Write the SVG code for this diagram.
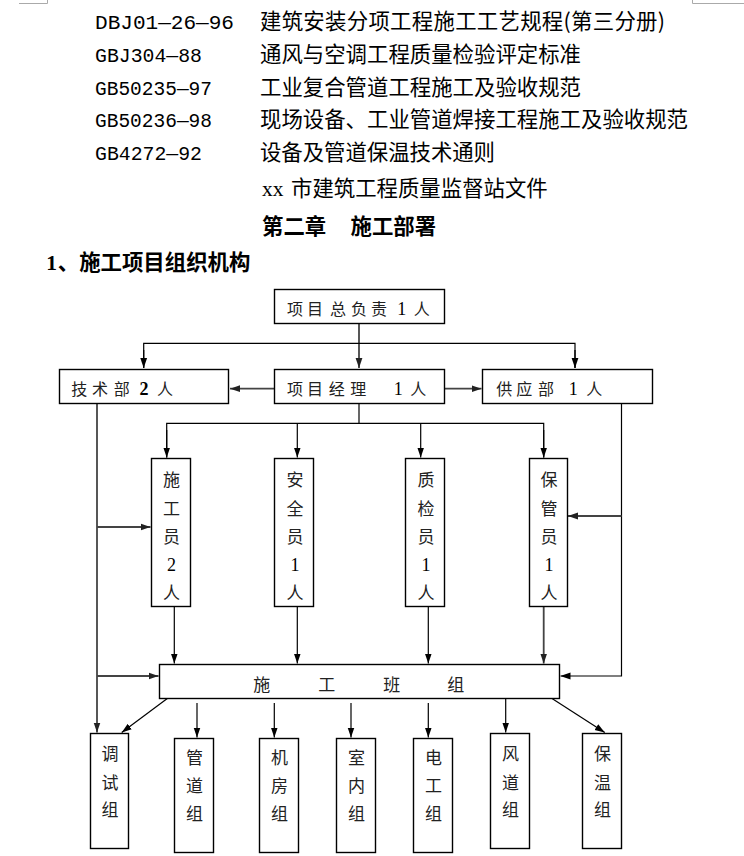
<svg xmlns="http://www.w3.org/2000/svg" width="744" height="856" viewBox="0 0 744 856">
<style>
.cjk{font-family:"Noto Sans CJK SC","Noto Sans CJK JP",sans-serif;fill:#000}
.code{font-family:"Liberation Mono",monospace;font-size:20px;fill:#000}
.ser{font-family:"Liberation Serif","Noto Sans CJK SC",serif}
.bold{font-weight:bold}
.h{font-size:21.4px}
.box{fill:#fff;stroke:#000;stroke-width:1.4}
.bt{font-family:"Noto Sans CJK SC",sans-serif;font-size:16px;fill:#222;text-anchor:middle}
.vt{font-family:"Noto Sans CJK SC",sans-serif;font-size:17px;fill:#222;text-anchor:middle}
.num{font-family:"Liberation Serif",serif;fill:#000}
.c{fill:none;stroke:#000;stroke-width:1.2}
.cg{fill:none;stroke:#444;stroke-width:1.8}
.mark{fill:none;stroke:#aaa;stroke-width:1}
</style>
<defs>
<marker id="ah" markerWidth="10" markerHeight="8" refX="10" refY="4" orient="auto" markerUnits="userSpaceOnUse"><path d="M0,0.6 L10,4 L0,7.4 z" fill="#000"/></marker>
<marker id="ahg" markerWidth="10" markerHeight="8" refX="10" refY="4" orient="auto" markerUnits="userSpaceOnUse"><path d="M0,0.6 L10,4 L0,7.4 z" fill="#222"/></marker>
</defs>
<rect x="0" y="0" width="744" height="856" fill="#fff"/>
<g id="corner-marks">
<path class="mark" d="M19,3.5 H47.5 V0"/>
<path class="mark" d="M692.5,0 V3.5 H744"/>
</g>
<g id="header">
<text class="code" x="95" y="29" textLength="139" lengthAdjust="spacingAndGlyphs">DBJ01—26—96</text>
<text class="cjk h" x="260" y="29" textLength="405" lengthAdjust="spacing">建筑安装分项工程施工工艺规程(第三分册)</text>
<text class="code" x="95" y="62" textLength="107" lengthAdjust="spacingAndGlyphs">GBJ304—88</text>
<text class="cjk h" x="260" y="62" textLength="321" lengthAdjust="spacing">通风与空调工程质量检验评定标准</text>
<text class="code" x="95" y="95" textLength="117" lengthAdjust="spacingAndGlyphs">GB50235—97</text>
<text class="cjk h" x="260" y="95" textLength="321" lengthAdjust="spacing">工业复合管道工程施工及验收规范</text>
<text class="code" x="95" y="127" textLength="117" lengthAdjust="spacingAndGlyphs">GB50236—98</text>
<text class="cjk h" x="260" y="127" textLength="428" lengthAdjust="spacing">现场设备、工业管道焊接工程施工及验收规范</text>
<text class="code" x="95" y="160" textLength="107" lengthAdjust="spacingAndGlyphs">GB4272—92</text>
<text class="cjk h" x="260" y="160" textLength="235" lengthAdjust="spacing">设备及管道保温技术通则</text>
<text class="cjk h" y="196"><tspan class="ser" x="262">xx</tspan><tspan x="291">市建筑工程质量监督站文件</tspan></text>
<text class="cjk h bold" y="234"><tspan x="262">第二章</tspan><tspan x="350.5">施工部署</tspan></text>
<text class="cjk h bold" y="270"><tspan class="ser" x="46.3">1</tspan><tspan x="57.8">、施工项目组织机构</tspan></text>
</g>
<g id="connectors">
<path class="cg" d="M359,323.5 V368" marker-end="url(#ahg)"/>
<path class="c" d="M143.7,368 V343.3 H575 V368" />
<path class="c" d="M143.7,350 V368" marker-end="url(#ah)"/>
<path class="c" d="M575,350 V368" marker-end="url(#ah)"/>
<path class="cg" d="M274.5,388.7 H230" marker-end="url(#ahg)"/>
<path class="cg" d="M444.5,388.7 H481.5" marker-end="url(#ahg)"/>
<path class="c" d="M359,403.5 V423.3"/>
<path class="c" d="M166.7,457.5 V423.3 H543.7 V457.5"/>
<path class="c" d="M166.7,430 V457.5" marker-end="url(#ah)"/>
<path class="c" d="M297.3,423.3 V457.5" marker-end="url(#ah)"/>
<path class="c" d="M420.7,423.3 V457.5" marker-end="url(#ah)"/>
<path class="c" d="M543.7,430 V457.5" marker-end="url(#ah)"/>
<path class="cg" d="M97,403.5 V732.5" marker-end="url(#ahg)"/>
<path class="cg" d="M97,527 H150.5" marker-end="url(#ahg)"/>
<path class="cg" d="M97,676 H158.5" marker-end="url(#ahg)"/>
<path class="c" d="M621.5,403.5 V676 H560.5" marker-end="url(#ah)"/>
<path class="cg" d="M621.5,516 H568" marker-end="url(#ahg)"/>
<path class="c" d="M174.3,607 V663.5" marker-end="url(#ah)"/>
<path class="c" d="M297.3,607 V663.5" marker-end="url(#ah)"/>
<path class="c" d="M428.3,607 V663.5" marker-end="url(#ah)"/>
<path class="cg" d="M543.7,607 V663.5" marker-end="url(#ahg)"/>
<path class="c" d="M167.3,698.5 L121.7,732.5" marker-end="url(#ah)"/>
<path class="c" d="M197,703 V737.5" marker-end="url(#ah)"/>
<path class="c" d="M274.3,703 V737.5" marker-end="url(#ah)"/>
<path class="c" d="M351,703 V737.5" marker-end="url(#ah)"/>
<path class="c" d="M428.3,703 V737.5" marker-end="url(#ah)"/>
<path class="c" d="M505.7,698.5 V732.5" marker-end="url(#ah)"/>
<path class="c" d="M552,698.5 L604.8,732.5" marker-end="url(#ah)"/>
</g>
<g id="n-top">
<rect class="box" x="274.5" y="289.5" width="170" height="34"/>
<text class="bt" y="315.3" x="295 315 338 359 379">项目总负责<tspan class="num" font-size="18" x="401.7">1</tspan><tspan x="421.7">人</tspan></text>
</g>
<g id="n-tech">
<rect class="box" x="59.5" y="369.5" width="169" height="34"/>
<text class="bt" y="394.5" x="79.3 100 121.7">技术部<tspan class="num bold" font-size="18" x="144">2</tspan><tspan x="165">人</tspan></text>
</g>
<g id="n-pm">
<rect class="box" x="274.5" y="369.5" width="170" height="34"/>
<text class="bt" y="394.5" x="295 315 336.7 358.3">项目经理<tspan class="num" font-size="18" x="398.3">1</tspan><tspan x="418.3">人</tspan></text>
</g>
<g id="n-supply">
<rect class="box" x="482.5" y="369.5" width="170" height="34"/>
<text class="bt" y="394.5" x="504.3 524.3 546">供应部<tspan class="num" font-size="18" x="573.3">1</tspan><tspan x="594.3">人</tspan></text>
</g>
<g id="n-sgy">
<rect class="box" x="151.5" y="458.5" width="39" height="148"/>
<text class="vt"><tspan x="171.5" y="485.5">施</tspan><tspan x="171.5" y="514.5">工</tspan><tspan x="171.5" y="542.5">员</tspan><tspan class="num" font-size="18" x="171.5" y="570.5">2</tspan><tspan x="171.5" y="598.5">人</tspan></text>
</g>
<g id="n-aqy">
<rect class="box" x="274.5" y="458.5" width="39" height="148"/>
<text class="vt"><tspan x="295" y="485.5">安</tspan><tspan x="295" y="514.5">全</tspan><tspan x="295" y="542.5">员</tspan><tspan class="num" font-size="18" x="295" y="570.5">1</tspan><tspan x="295" y="598.5">人</tspan></text>
</g>
<g id="n-zjy">
<rect class="box" x="405.5" y="458.5" width="39" height="148"/>
<text class="vt"><tspan x="426" y="485.5">质</tspan><tspan x="426" y="514.5">检</tspan><tspan x="426" y="542.5">员</tspan><tspan class="num" font-size="18" x="426" y="570.5">1</tspan><tspan x="426" y="598.5">人</tspan></text>
</g>
<g id="n-bgy">
<rect class="box" x="529.5" y="458.5" width="38" height="148"/>
<text class="vt"><tspan x="549" y="485.5">保</tspan><tspan x="549" y="514.5">管</tspan><tspan x="549" y="542.5">员</tspan><tspan class="num" font-size="18" x="549" y="570.5">1</tspan><tspan x="549" y="598.5">人</tspan></text>
</g>
<g id="n-team">
<rect class="box" x="159.5" y="664.5" width="400" height="34"/>
<text class="vt" y="691" x="261.7 326.7 391.7 455.7">施工班组</text>
</g>
<g id="n-tsz">
<rect class="box" x="90.5" y="733.5" width="38" height="115"/>
<text class="vt"><tspan x="110" y="759.5">调</tspan><tspan x="110" y="788.5">试</tspan><tspan x="110" y="815.5">组</tspan></text>
</g>
<g id="n-gdz">
<rect class="box" x="174.5" y="738.5" width="39" height="114"/>
<text class="vt"><tspan x="194.5" y="763.5">管</tspan><tspan x="194.5" y="792">道</tspan><tspan x="194.5" y="819.5">组</tspan></text>
</g>
<g id="n-jfz">
<rect class="box" x="259.5" y="738.5" width="39" height="114"/>
<text class="vt"><tspan x="279.5" y="763.5">机</tspan><tspan x="279.5" y="792">房</tspan><tspan x="279.5" y="819.5">组</tspan></text>
</g>
<g id="n-snz">
<rect class="box" x="336.5" y="738.5" width="39" height="114"/>
<text class="vt"><tspan x="356.5" y="763.5">室</tspan><tspan x="356.5" y="792">内</tspan><tspan x="356.5" y="819.5">组</tspan></text>
</g>
<g id="n-dgz">
<rect class="box" x="413.5" y="738.5" width="39" height="114"/>
<text class="vt"><tspan x="433.5" y="763.5">电</tspan><tspan x="433.5" y="792">工</tspan><tspan x="433.5" y="819.5">组</tspan></text>
</g>
<g id="n-fdz">
<rect class="box" x="490.5" y="733.5" width="39" height="115"/>
<text class="vt"><tspan x="510.5" y="759.5">风</tspan><tspan x="510.5" y="788.5">道</tspan><tspan x="510.5" y="815.5">组</tspan></text>
</g>
<g id="n-bwz">
<rect class="box" x="582.5" y="733.5" width="39" height="115"/>
<text class="vt"><tspan x="602.5" y="759.5">保</tspan><tspan x="602.5" y="788.5">温</tspan><tspan x="602.5" y="815.5">组</tspan></text>
</g>
</svg>
